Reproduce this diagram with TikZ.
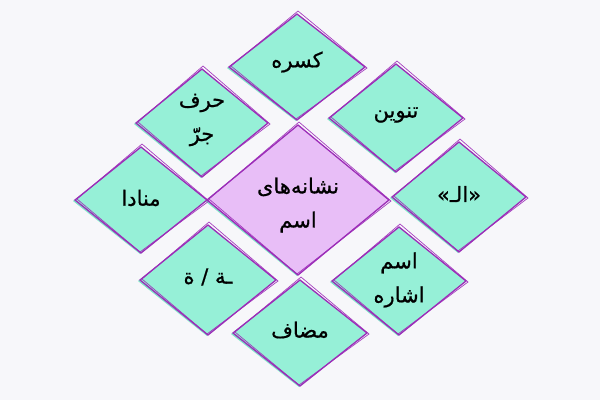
\documentclass[tikz,border=0pt]{standalone}
\usepackage{fontspec}
\newfontfamily\arabicfont[Script=Arabic,FakeBold=0.7]{DejaVu Sans}
\TeXXeTstate=1
\definecolor{bg}{HTML}{F7F7FA}
\definecolor{mint}{HTML}{96F0D7}
\definecolor{mintdark}{HTML}{7FE3C9}
\definecolor{lilac}{HTML}{E8BEF7}
\definecolor{plum}{HTML}{9C2CB8}
\tikzset{
  lbl/.style={font=\arabicfont\fontsize{21}{34}\selectfont, align=center, text=black, inner sep=0pt},
  outl/.style={draw=plum, line width=1.3pt, line join=miter},
  outlb/.style={draw=plum, line width=0.7pt, opacity=0.9},
}
\newcommand\sketchdia[5]{%
  \fill[mintdark] ({#1-#3-2},{#2+1}) -- ({#1-1},{#2-#4+1}) -- ({#1+#3-2},{#2+1}) -- ({#1-1},{#2+#4+1}) -- cycle;
  \fill[#5] ({#1-#3},{#2}) -- ({#1},{#2-#4}) -- ({#1+#3},{#2}) -- ({#1},{#2+#4}) -- cycle;
  \path[outl] ({#1-#3},{#2}) -- ({#1},{#2-#4}) -- ({#1+#3},{#2}) -- ({#1},{#2+#4}) -- cycle;
  \path[outlb] ({#1-#3+2},{#2-1}) -- ({#1+1},{#2-#4-3}) -- ({#1+#3+2},{#2+1}) -- ({#1-1},{#2+#4-1}) -- cycle;
}
\begin{document}
\begin{tikzpicture}[x=1pt,y=-1pt]
\fill[bg] (0,0) rectangle (600,400);
\useasboundingbox (0,0) rectangle (600,400);
% diamonds
\sketchdia{298}{200}{91}{75}{lilac}
\sketchdia{297}{67}{68}{53}{mint}
\sketchdia{202}{123}{66}{54}{mint}
\sketchdia{396}{118}{67}{54}{mint}
\sketchdia{141}{200}{66}{53}{mint}
\sketchdia{459}{197}{67}{55}{mint}
\sketchdia{208}{280}{68}{55}{mint}
\sketchdia{399}{281}{67}{54}{mint}
\sketchdia{300}{333}{67}{53}{mint}
% labels
\node[lbl] (center) at (298,205) {\beginR نشانه‌های\endR\\\beginR اسم\endR};
\node[lbl] (kasre) at (297,62) {\beginR کسره\endR};
\node[lbl] (harf) at (202,120) {\beginR حرف\endR\\\beginR جرّ\endR};
\node[lbl] (tanvin) at (396,115) {\beginR تنوین\endR};
\node[lbl] (monada) at (141,198) {\beginR منادا\endR};
\node[lbl] (al) at (459,194) {\beginR «الـ»\endR};
\node[lbl] (te) at (208,277) {\beginR ـة / ة\endR};
\node[lbl] (esm) at (399,280) {\beginR اسم\endR\\\beginR اشاره\endR};
\node[lbl] (mozaf) at (300,330) {\beginR مضاف\endR};
\end{tikzpicture}
\end{document}
